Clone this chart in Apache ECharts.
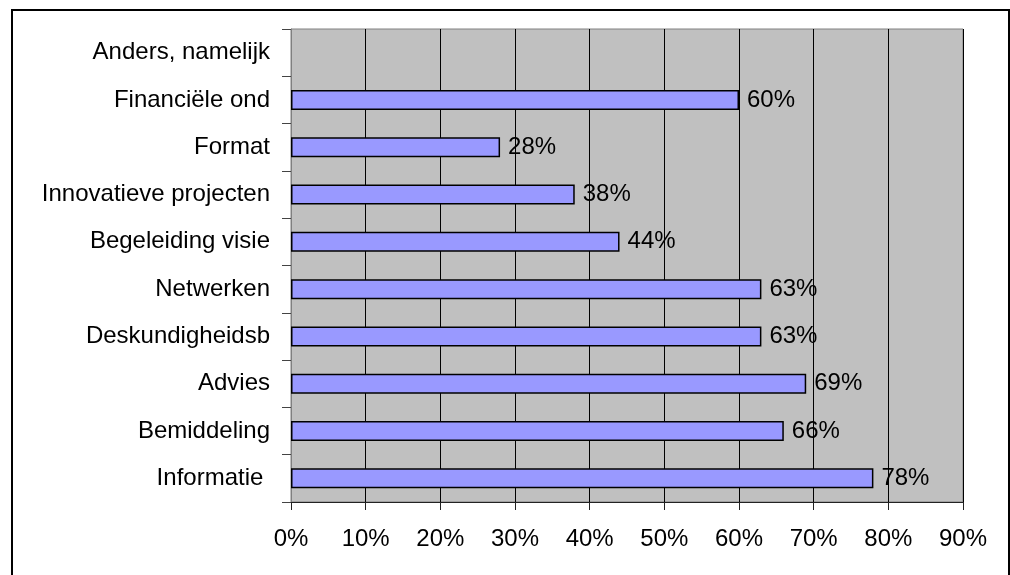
<!DOCTYPE html>
<html>
<head>
<meta charset="utf-8">
<script src="https://cdn.jsdelivr.net/npm/echarts@6/dist/echarts.min.js"></script>
<style>
  html, body { margin: 0; padding: 0; background: #fff; }
  #chart { width: 1010px; height: 575px; }
</style>
</head>
<body>
<div id="chart"></div>
<script>
// categories from bottom to top, as in the picture
var categories = [
  "Informatie ", "Bemiddeling", "Advies", "Deskundigheidsb", "Netwerken",
  "Begeleiding visie", "Innovatieve projecten", "Format", "Financiële ond", "Anders, namelijk"
];
var percentages = [78, 66, 69, 63, 63, 44, 38, 28, 60, null];
var xTicks = [0, 10, 20, 30, 40, 50, 60, 70, 80, 90];

var myChart = echarts.init(document.getElementById("chart"));
var font = "Liberation Sans, Arial, sans-serif";

var option = {
  backgroundColor: "#fff",
  animation: false,
  graphic: [{
    type: "rect",
    shape: { x: 12, y: 10, width: 997, height: 600 },
    style: { fill: "none", stroke: "#000", lineWidth: 2 },
    silent: true
  }],
  grid: {
    left: 291, top: 29, right: 47, bottom: 73,
    show: true,
    backgroundColor: "#C0C0C0",
    borderColor: "#808080",
    borderWidth: 1
  },
  xAxis: {
    type: "value",
    min: xTicks[0],
    max: xTicks[xTicks.length - 1],
    interval: 10,
    axisLine: { show: true, lineStyle: { color: "#222", width: 1 } },
    axisTick: { show: true, length: 8, lineStyle: { color: "#222" } },
    splitLine: { show: true, lineStyle: { color: "#000", width: 1 } },
    axisLabel: {
      margin: 25,
      color: "#000",
      fontFamily: font,
      fontSize: 24,
      formatter: "{value}%"
    }
  },
  yAxis: {
    type: "category",
    data: categories,
    axisLine: { show: true, lineStyle: { color: "#808080", width: 1 } },
    axisTick: { show: true, length: 9, alignWithLabel: false, lineStyle: { color: "#444" } },
    axisLabel: {
      margin: 21,
      color: "#000",
      fontFamily: font,
      fontSize: 24
    }
  },
  series: [{
    type: "bar",
    data: percentages,
    barWidth: 20,
    itemStyle: { color: "#9999FF", borderColor: "#000", borderWidth: 1.5 },
    label: {
      show: true,
      position: "right",
      distance: 8,
      color: "#000",
      fontFamily: font,
      fontSize: 24,
      formatter: function (p) { return p.value == null ? "" : p.value + "%"; }
    }
  }]
};

myChart.setOption(option);
</script>
</body>
</html>
